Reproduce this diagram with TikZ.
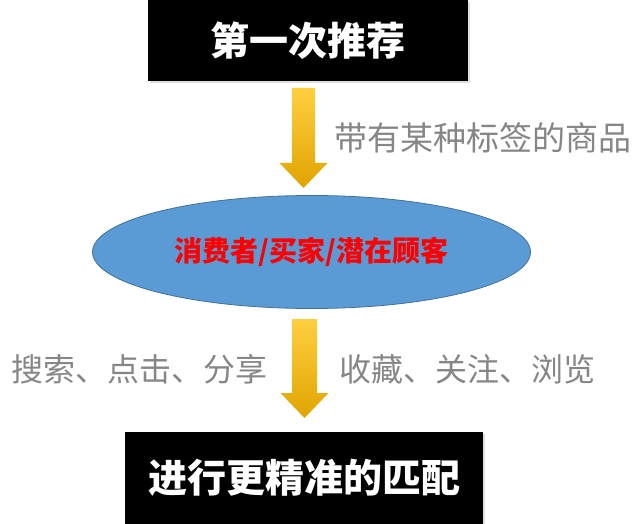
\documentclass[tikz,border=0pt]{standalone}
\usepackage{fontspec}
\newfontfamily\cjk{Noto Sans CJK SC}
\usetikzlibrary{shadows,calc}
\definecolor{ellfill}{HTML}{5B9BD5}
\definecolor{elldraw}{HTML}{41719C}
\definecolor{arrtop}{HTML}{FFCF40}
\definecolor{arrbot}{HTML}{E0A400}
\definecolor{lblgray}{HTML}{868686}
\tikzset{
  blackbox/.style={fill=black, text=white, font=\cjk\bfseries\fontsize{39}{44}\selectfont,
    inner sep=0pt, drop shadow={shadow xshift=2pt, shadow yshift=-2pt, opacity=0.25}},
  ellnode/.style={ellipse, fill=ellfill, draw=elldraw, line width=0.8pt, text=red,
    font=\cjk\bfseries\fontsize{28}{32}\selectfont, inner sep=0pt},
  arrowshade/.style={top color=arrtop, bottom color=arrbot, draw=none},
  calli/.style={text=lblgray, font=\cjk\fontsize{32}{36}\selectfont, inner sep=0pt}
}
\usetikzlibrary{shapes.geometric}
\begin{document}
\begin{tikzpicture}[x=1pt,y=-1pt]
\useasboundingbox (0,0) rectangle (640,524);
\fill[white] (0,0) rectangle (640,524);
% boxes
\node[blackbox, minimum width=320pt, minimum height=81pt] (top) at (308,40.5) {第一次推荐};
\node[blackbox, minimum width=358pt, minimum height=93pt] (bot) at (304,478) {进行更精准的匹配};
% ellipse
\node[ellnode, minimum width=438pt, minimum height=113pt] (cons) at (311.5,252) {消费者/买家/潜在顾客};
% arrow coordinates
\coordinate (a1s) at (303.5,88);
\coordinate (a1e) at (303.5,188);
\coordinate (a2s) at (304.5,319);
\coordinate (a2e) at (304.5,418);
% arrow 1 (top -> cons)
\shade[arrowshade] (a1s) ++(-11.5,0) -- ++(23,0) -- ++(0,75) -- ++(12.5,0) -- (a1e)
  -- ++(-24,-25) -- ++(12.5,0) -- cycle;
% arrow 2 (cons -> bot)
\shade[arrowshade] (a2s) ++(-12.5,0) -- ++(25,0) -- ++(0,74) -- ++(11.5,0) -- (a2e)
  -- ++(-24,-25) -- ++(11.5,0) -- cycle;
% labels
\node[calli, anchor=west, font=\cjk\fontsize{33}{36}\selectfont] (l1) at (334,138) {带有某种标签的商品};
\node[calli] (l2) at (140,369) {搜索、点击、分享};
\node[calli] (l3) at (467,369) {收藏、关注、浏览};
\end{tikzpicture}
\end{document}
